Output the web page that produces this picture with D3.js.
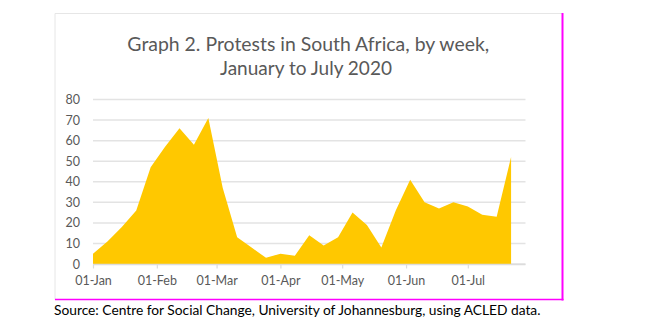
<!DOCTYPE html>
<html>
<head>
<meta charset="utf-8">
<script src="https://cdn.jsdelivr.net/npm/d3@7"></script>
<style>
  html, body { margin: 0; padding: 0; background: #fff; }
  svg { display: block; }
</style>
</head>
<body>
<svg id="chart" width="647" height="329"></svg>
<script>
// ---- data ----
const weekStarts = [
  "2020-01-01","2020-01-08","2020-01-15","2020-01-22","2020-01-29",
  "2020-02-05","2020-02-12","2020-02-19","2020-02-26","2020-03-04",
  "2020-03-11","2020-03-18","2020-03-25","2020-04-01","2020-04-08",
  "2020-04-15","2020-04-22","2020-04-29","2020-05-06","2020-05-13",
  "2020-05-20","2020-05-27","2020-06-03","2020-06-10","2020-06-17",
  "2020-06-24","2020-07-01","2020-07-08","2020-07-15","2020-07-22"
];
const protests = [
  5, 11, 18, 26, 47,
  57, 66, 58, 71, 37,
  13, 8, 3, 5, 4,
  14, 9, 13, 25, 19,
  8, 26, 41, 30, 27,
  30, 28, 24, 23, 52
];
const yTicks = [0, 10, 20, 30, 40, 50, 60, 70, 80];
const xTickDates = ["2020-01-01","2020-02-01","2020-03-01","2020-04-01","2020-05-01","2020-06-01","2020-07-01"];
const titleLines = ["Graph 2. Protests in South Africa, by week,", "January to July 2020"];
const sourceText = "Source: Centre for Social Change, University of Johannesburg, using ACLED data.";

// ---- drawing ----
const parse = d3.utcParse("%Y-%m-%d");
const data = weekStarts.map((d, i) => ({ date: parse(d), value: protests[i] }));

const svg = d3.select("#chart");
const font = "Lato, 'Open Sans', sans-serif";

// frame
const fx0 = 55, fy0 = 13.5, fx1 = 562.5, fy1 = 299.5;
svg.append("line").attr("x1", fx0).attr("y1", fy0).attr("x2", fx1).attr("y2", fy0)
  .attr("stroke", "#e6e6e6").attr("stroke-width", 1);
svg.append("line").attr("x1", fx0).attr("y1", fy0).attr("x2", fx0).attr("y2", fy1)
  .attr("stroke", "#e6e6e6").attr("stroke-width", 1);
svg.append("line").attr("x1", fx1).attr("y1", fy0 - 0.5).attr("x2", fx1).attr("y2", fy1 + 1)
  .attr("stroke", "#ff00ff").attr("stroke-width", 2);
svg.append("line").attr("x1", fx0).attr("y1", fy1).attr("x2", fx1 + 1).attr("y2", fy1)
  .attr("stroke", "#ff00ff").attr("stroke-width", 1.5);

const x = d3.scaleUtc()
  .domain([parse("2020-01-01"), parse("2020-07-29")])
  .range([93, 525.5]);
const y = d3.scaleLinear().domain([0, 80]).range([264, 99.5]);

// gridlines
svg.append("g").selectAll("line").data(yTicks).join("line")
  .attr("x1", x.range()[0]).attr("x2", x.range()[1])
  .attr("y1", d => y(d)).attr("y2", d => y(d))
  .attr("stroke", "#e3e3e3").attr("stroke-width", 1.5);

// area
const area = d3.area()
  .x(d => x(d.date))
  .y0(y(0))
  .y1(d => y(d.value));
svg.append("path").datum(data).attr("d", area).attr("fill", "#ffc800");

// x axis baseline
svg.append("line").attr("x1", x.range()[0]).attr("x2", x.range()[1])
  .attr("y1", y(0) + 0.5).attr("y2", y(0) + 0.5)
  .attr("stroke", "#dcdcdc").attr("stroke-width", 1.5);

// x axis
const xAxis = d3.axisBottom(x)
  .tickValues(xTickDates.map(parse))
  .tickFormat(d3.utcFormat("%d-%b"))
  .tickSizeInner(4).tickSizeOuter(0).tickPadding(8);
const gx = svg.append("g").attr("transform", `translate(0,${y(0) + 0.5})`).call(xAxis);
gx.select(".domain").remove();
gx.selectAll(".tick line").attr("stroke", "#dcdcdc").attr("stroke-width", 1.2);
gx.selectAll(".tick text").attr("fill", "#595959").attr("font-family", font)
  .attr("font-size", 12.5);

// y axis
const yAxis = d3.axisLeft(y).tickValues(yTicks).tickSize(0).tickPadding(13);
const gy = svg.append("g").attr("transform", `translate(${x.range()[0]},0)`).call(yAxis);
gy.select(".domain").remove();
gy.selectAll(".tick text").attr("fill", "#595959").attr("font-family", font)
  .attr("font-size", 12.5);

// title
function fitText(sel, target) {
  const len = sel.node().getComputedTextLength();
  const fs = parseFloat(sel.attr("font-size"));
  sel.attr("font-size", fs * target / len);
}
const t1 = svg.append("text").attr("x", 308.3).attr("y", 51).attr("text-anchor", "middle")
  .attr("font-family", font).attr("font-size", 20).attr("fill", "#595959").text(titleLines[0]);
fitText(t1, 362);
const t2 = svg.append("text").attr("x", 306).attr("y", 75).attr("text-anchor", "middle")
  .attr("font-family", font).attr("font-size", 20).attr("fill", "#595959").text(titleLines[1]);
fitText(t2, 172);

// source
const s = svg.append("text").attr("x", 54).attr("y", 315)
  .attr("font-family", font).attr("font-size", 14).attr("fill", "#000").text(sourceText);
fitText(s, 487);
</script>
</body>
</html>
